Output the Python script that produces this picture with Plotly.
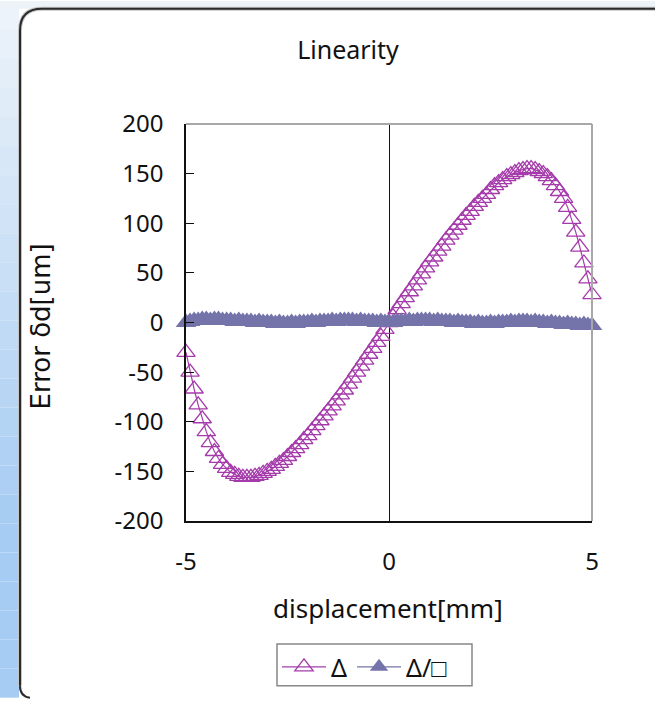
import plotly.graph_objects as go

# displacement sweep, mm
displacement = [round(-5 + 0.1 * i, 1) for i in range(101)]

# error of the raw output (open triangles), um
err_delta = [
    -30, -50, -67, -83, -97, -110, -121, -130, -137, -143,
    -147, -151, -153, -155, -156, -156, -156, -155, -154, -152,
    -150, -148, -145, -142, -139, -135, -131, -127, -123, -118,
    -114, -109, -104, -99, -94, -89, -84, -79, -73, -68,
    -62, -56, -50, -44, -38, -32, -26, -20, -14, -7,
    0,
    6, 13, 19, 25, 31, 37, 43, 49, 55, 61,
    66, 72, 77, 83, 88, 93, 98, 103, 108, 112,
    117, 121, 125, 129, 134, 138, 141, 144, 147, 149,
    151, 153, 154, 155, 155, 154, 152, 150, 147, 143,
    138, 132, 125, 116, 104, 91, 76, 60, 44, 28,
]

# error of the normalised output (filled triangles), um
err_ratio = [
    0, 1, 2, 2, 3, 3, 2, 3, 3, 2,
    2, 2, 1, 2, 1, 1, 1, 0, 1, 0,
    0, 0, -1, 0, -1, -1, 0, -1, 0, 0,
    0, 1, 0, 1, 1, 1, 2, 1, 2, 2,
    2, 2, 1, 2, 1, 1, 1, 0, 1, 0,
    0,
    0, 1, 1, 1, 2, 1, 2, 2, 2, 2,
    1, 2, 1, 1, 1, 0, 1, 0, 0, 0,
    -1, 0, -1, -1, 0, -1, 0, 0, 0, 1,
    0, 1, 1, 1, 0, 1, 0, 0, -1, 0,
    -1, -1, -2, -1, -2, -2, -3, -2, -3, -3,
]

series_names = ["Δ", "Δ/□"]
x_ticks = [-5, 0, 5]
x_labels = ["-5", "0", "5"]
y_ticks = [-200, -150, -100, -50, 0, 50, 100, 150, 200]
y_labels = ["-200", "-150", "-100", "-50", "0", "50", "100", "150", "200"]

W, H = 655, 702
L, R, T, B = 186, 63, 124, 178
PW, PH = W - L - R, H - T - B
FONT = "Noto Sans"
INK = "#111111"


def px(x):
    return (x - L) / PW


def py(y):
    return (H - B - y) / PH


fig = go.Figure()

fig.add_trace(go.Scatter(
    x=displacement, y=err_delta, name=series_names[0],
    mode="lines+markers",
    line=dict(color="#a53bab", width=1.2),
    marker=dict(symbol="triangle-up-open", size=16, color="#a53bab",
                line=dict(width=1.3, color="#a53bab")),
    cliponaxis=False,
))
fig.add_trace(go.Scatter(
    x=displacement, y=err_ratio, name=series_names[1],
    mode="lines+markers",
    line=dict(color="#7474aa", width=1.2),
    marker=dict(symbol="triangle-up", size=18, color="#7474aa",
                line=dict(width=0)),
    cliponaxis=False,
))

shapes = []
# soft blue strip on the left edge of the page
n_band = 24
c0 = (236, 243, 250)
c1 = (166, 204, 243)
for i in range(n_band):
    t = i / (n_band - 1)
    c = tuple(int(c0[k] + (c1[k] - c0[k]) * min(1.0, t * 1.3)) for k in range(3))
    y0 = H * i / n_band
    y1 = H * (i + 1) / n_band
    shapes.append(dict(type="rect", xref="paper", yref="paper",
                       x0=px(0), x1=px(19), y0=py(y1), y1=py(y0),
                       fillcolor="rgb(%d,%d,%d)" % c, line=dict(width=0),
                       layer="below"))
# pale strip along the top
shapes.append(dict(type="rect", xref="paper", yref="paper",
                   x0=px(0), x1=px(W), y0=py(8), y1=py(0),
                   fillcolor="#eef3f8", line=dict(width=0), layer="below"))
# rounded frame of the chart area
frame = "M %f,%f L %f,%f Q %f,%f %f,%f L %f,%f" % (
    px(20), py(690), px(20), py(30), px(20), py(8), px(42), py(8),
    px(W), py(8))
shapes.append(dict(type="path", xref="paper", yref="paper", path=frame,
                   line=dict(color="#c4c4c4", width=4), layer="below"))
shapes.append(dict(type="path", xref="paper", yref="paper", path=frame,
                   line=dict(color="#2a2a2a", width=2), layer="below"))
corner = "M %f,%f Q %f,%f %f,%f" % (px(20), py(690), px(20), py(701), px(30), py(702))
shapes.append(dict(type="path", xref="paper", yref="paper", path=corner,
                   line=dict(color="#2a2a2a", width=2), layer="below"))
# grey top and right edges of the plot box
shapes.append(dict(type="line", xref="paper", yref="paper",
                   x0=0, x1=1, y0=1, y1=1, line=dict(color="#a8a8a8", width=2)))
shapes.append(dict(type="line", xref="paper", yref="paper",
                   x0=1, x1=1, y0=0, y1=1, line=dict(color="#a8a8a8", width=2)))
# legend frame
shapes.append(dict(type="rect", xref="paper", yref="paper",
                   x0=px(277), x1=px(472), y0=py(690), y1=py(648),
                   line=dict(color="#888888", width=1.5),
                   fillcolor="rgba(0,0,0,0)", layer="above"))

fig.update_layout(
    width=W, height=H, autosize=False,
    margin=dict(l=L, r=R, t=T, b=B, pad=0),
    paper_bgcolor="white", plot_bgcolor="white",
    font=dict(family=FONT, color=INK, size=24),
    title=dict(text="Linearity", x=348 / W, y=1 - 50 / H,
               xanchor="center", yanchor="middle",
               font=dict(family=FONT, size=25, color=INK)),
    shapes=shapes,
    showlegend=True,
    legend=dict(orientation="h", x=px(277), y=py(648),
                xanchor="left", yanchor="top",
                borderwidth=0, bgcolor="rgba(0,0,0,0)",
                font=dict(family=FONT, size=25, color=INK),
                itemwidth=44, tracegroupgap=0),
    annotations=[
        dict(text="Error δd[um]", xref="paper", yref="paper",
             x=px(41), y=py(328), textangle=-90, showarrow=False,
             xanchor="center", yanchor="middle",
             font=dict(family="DejaVu Sans", size=26, color=INK)),
        dict(text="displacement[mm]", xref="paper", yref="paper",
             x=px(388), y=py(612), showarrow=False,
             xanchor="center", yanchor="middle",
             font=dict(family=FONT, size=26, color=INK)),
    ],
)

fig.update_xaxes(
    range=[-5, 5], tickvals=x_ticks, ticktext=x_labels, ticks="",
    showgrid=False,
    showline=True, linecolor=INK, linewidth=1.5,
    zeroline=True, zerolinecolor=INK, zerolinewidth=1.2,
    tickfont=dict(family=FONT, size=24, color=INK),
    ticklabelstandoff=18,
)
fig.update_yaxes(
    range=[-200, 200], tickvals=y_ticks, ticktext=y_labels,
    ticks="inside", ticklen=8,
    tickcolor=INK, tickwidth=1.2, showgrid=False,
    showline=True, linecolor=INK, linewidth=1.5, zeroline=False,
    tickfont=dict(family=FONT, size=24, color=INK),
    ticklabelstandoff=16,
)

fig.write_html("out.html")
